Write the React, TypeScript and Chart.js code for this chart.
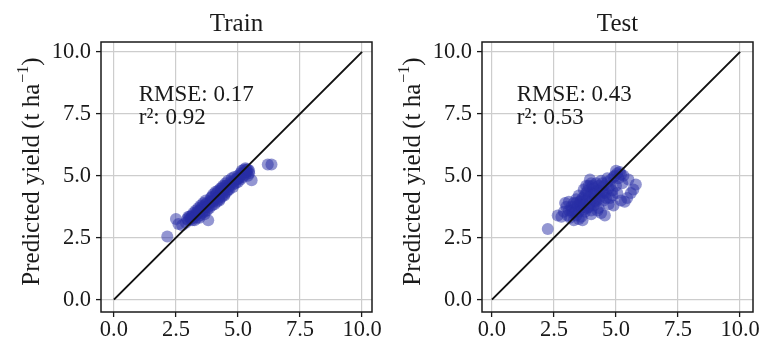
import React, { useEffect, useRef } from "react";
import { Chart, registerables } from "chart.js";

Chart.register(...registerables);

const serif = '"Liberation Serif", "Times New Roman", Times, serif';

const tickValues = [0, 2.5, 5, 7.5, 10];
const tickLabels = ["0.0", "2.5", "5.0", "7.5", "10.0"];
const oneToOne = [0, 10];

const trainObserved = [
  2.15, 2.5, 2.6, 2.75, 2.9, 3.0, 3.05, 3.1, 3.15, 3.2, 3.2, 3.25, 3.3, 3.3, 3.35, 3.4, 3.4, 3.45, 3.5, 3.5,
  3.55, 3.6, 3.6, 3.65, 3.7, 3.7, 3.75, 3.8, 3.8, 3.85, 3.9, 3.9, 3.95, 4.0, 4.0, 4.05, 4.1, 4.1, 4.15, 4.2,
  4.2, 4.25, 4.3, 4.3, 4.35, 4.4, 4.4, 4.45, 4.5, 4.5, 4.55, 4.6, 4.6, 4.65, 4.7, 4.75, 4.8, 4.8, 4.85, 4.9,
  4.95, 5.0, 5.0, 5.05, 5.1, 5.1, 5.15, 5.2, 5.25, 5.3, 5.3, 5.35, 5.4, 5.4, 5.45, 5.55, 6.2, 6.35,
  3.35, 3.55, 3.75, 3.95, 4.15, 4.35, 4.55, 3.15, 3.45, 3.65, 4.25, 4.45,
  3.3, 3.5, 3.7, 3.9, 4.1, 4.3, 4.5, 4.7, 4.9, 5.1, 5.3, 3.6, 3.8, 4.0, 4.2, 4.4, 4.6, 4.8, 5.0, 5.2,
  5.35, 5.45, 3.1, 3.4, 3.0, 2.95,
];
const trainPredicted = [
  2.55, 3.25, 3.05, 3.0, 3.1, 3.2, 3.35, 3.25, 3.4, 3.3, 3.5, 3.2, 3.4, 3.6, 3.3, 3.5, 3.7, 3.4, 3.6, 3.8,
  3.5, 3.7, 3.9, 3.55, 3.75, 4.0, 3.6, 3.85, 3.2, 3.7, 3.95, 4.1, 3.8, 4.0, 4.25, 3.85, 4.1, 4.35, 3.95, 4.2,
  4.4, 4.05, 4.3, 4.5, 4.15, 4.4, 4.6, 4.25, 4.5, 4.7, 4.35, 4.55, 4.8, 4.45, 4.65, 4.9, 4.55, 4.75, 4.95, 4.7,
  4.85, 5.0, 4.75, 4.9, 5.1, 4.85, 5.2, 4.95, 5.25, 5.05, 5.3, 5.15, 5.0, 5.25, 5.1, 4.82, 5.45, 5.45,
  3.55, 3.75, 3.9, 4.15, 4.3, 4.5, 4.6, 3.2, 3.3, 3.45, 4.0, 4.2,
  3.45, 3.65, 3.85, 4.0, 4.2, 4.4, 4.6, 4.75, 4.85, 5.0, 5.15, 3.6, 3.75, 3.95, 4.1, 4.3, 4.45, 4.65, 4.9, 5.1,
  5.25, 5.2, 3.3, 3.55, 3.35, 3.25,
];

const testObserved = [
  2.25, 2.65, 2.8, 2.9, 2.95, 3.0, 3.05, 3.1, 3.1, 3.15, 3.2, 3.25, 3.3, 3.3, 3.35, 3.4, 3.4, 3.45, 3.5, 3.5,
  3.55, 3.6, 3.6, 3.65, 3.7, 3.7, 3.75, 3.8, 3.8, 3.85, 3.9, 3.9, 3.95, 3.95, 4.0, 4.0, 4.05, 4.1, 4.1, 4.15,
  4.2, 4.2, 4.25, 4.3, 4.3, 4.35, 4.4, 4.4, 4.45, 4.5, 4.5, 4.55, 4.6, 4.65, 4.7, 4.7, 4.75, 4.8, 4.85, 4.9,
  4.95, 5.0, 5.0, 5.05, 5.1, 5.15, 5.2, 5.25, 5.3, 5.35, 5.45, 5.5, 5.6, 5.7, 5.8, 5.2, 4.9, 3.5, 3.65, 4.0, 4.25,
  3.2, 3.4, 3.6, 3.75, 3.85, 4.05, 4.15, 4.35, 4.5, 4.6, 4.75, 4.85, 3.7, 3.9, 4.1, 4.3, 3.55, 3.35, 4.45, 4.65,
  5.05, 4.0, 3.8,
];
const testPredicted = [
  2.85, 3.4, 3.35, 3.55, 3.9, 3.75, 3.4, 3.6, 3.95, 3.3, 3.75, 3.5, 3.9, 3.2, 3.65, 4.05, 3.4, 3.8, 3.55, 4.2,
  3.95, 3.35, 3.7, 4.1, 3.85, 4.45, 3.55, 4.0, 4.3, 3.7, 4.6, 4.15, 3.9, 4.85, 3.6, 4.3, 4.05, 4.5, 3.8, 4.25,
  4.7, 3.95, 4.4, 3.7, 4.6, 4.15, 4.8, 3.5, 4.35, 4.0, 4.6, 3.4, 4.3, 4.75, 3.85, 4.5, 4.1, 4.85, 4.4, 3.8,
  5.0, 4.6, 5.2, 4.3, 4.9, 5.15, 4.0, 4.7, 5.0, 3.95, 4.1, 4.85, 4.3, 4.45, 4.65, 5.05, 4.95, 3.25, 3.2, 3.45, 3.6,
  3.6, 3.9, 4.0, 4.2, 4.4, 4.6, 4.0, 4.4, 4.3, 4.1, 4.6, 4.2, 3.65, 3.75, 4.3, 4.05, 3.8, 3.55, 4.7, 4.9,
  5.1, 4.7, 4.6,
];

const trainStats = ["RMSE: 0.17", "r²: 0.92"];
const testStats = ["RMSE: 0.43", "r²: 0.53"];
const statsPos = [1.0, 8.02];

const textColor = "#1a1a1a";

type PanelProps = {
  title: string;
  xs: number[];
  ys: number[];
  stats: string[];
  xMin: number;
  xMax: number;
};

function Panel({ title, xs, ys, stats, xMin, xMax }: PanelProps) {
  const ref = useRef<HTMLCanvasElement | null>(null);
  useEffect(() => {
    if (!ref.current) return;
    const decor = {
      id: "decor",
      afterDraw(chart: any) {
        const { ctx, chartArea: a, scales } = chart;
        ctx.save();
        ctx.strokeStyle = textColor;
        ctx.lineWidth = 1.5;
        ctx.strokeRect(a.left, a.top, a.right - a.left, a.bottom - a.top);
        ctx.fillStyle = textColor;
        ctx.textBaseline = "alphabetic";
        ctx.font = `25px ${serif}`;
        ctx.textAlign = "center";
        ctx.fillText(title, (a.left + a.right) / 2, 31);
        ctx.font = `23px ${serif}`;
        ctx.textAlign = "left";
        const sx = scales.x.getPixelForValue(statsPos[0]);
        const sy = scales.y.getPixelForValue(statsPos[1]);
        stats.forEach((s, i) => ctx.fillText(s, sx, sy + i * 23));
        // y-axis title with superscript
        ctx.translate(39, 172);
        ctx.rotate(-Math.PI / 2);
        const main = "Predicted yield (t ha";
        const sup = "−1";
        const close = ")";
        ctx.font = `25px ${serif}`;
        const w1 = ctx.measureText(main).width;
        const w3 = ctx.measureText(close).width;
        ctx.font = `16px ${serif}`;
        const w2 = ctx.measureText(sup).width;
        let x0 = -(w1 + w2 + w3) / 2;
        ctx.font = `25px ${serif}`;
        ctx.fillText(main, x0, 0);
        x0 += w1 + 1;
        ctx.font = `16px ${serif}`;
        ctx.fillText(sup, x0, -11);
        x0 += w2;
        ctx.font = `25px ${serif}`;
        ctx.fillText(close, x0, 0);
        ctx.restore();
      },
    };
    const axisCommon = (isX: boolean) => ({
      type: "linear" as const,
      afterBuildTicks: (s: any) => {
        s.ticks = tickValues.map((v) => ({ value: v }));
      },
      afterFit: (s: any) => {
        if (isX) {
          s.height = 34;
          s.paddingLeft = 0;
          s.paddingRight = 0;
        } else {
          s.width = 101;
          s.paddingTop = 0;
          s.paddingBottom = 0;
        }
      },
      ticks: {
        callback: (_v: any, i: number) => tickLabels[i],
        font: { family: serif, size: 22.5 },
        color: textColor,
        padding: isX ? 0 : 5,
        maxRotation: 0,
        autoSkip: false,
      },
      grid: {
        color: "#cdcdcd",
        lineWidth: 1.2,
        tickColor: textColor,
        tickLength: 5,
        tickWidth: 1.3,
        drawTicks: true,
      },
      border: { display: false },
    });
    const chart = new Chart(ref.current, {
      type: "scatter",
      data: {
        datasets: [
          {
            data: oneToOne.map((v) => ({ x: v, y: v })),
            showLine: true,
            borderColor: "#111111",
            borderWidth: 2,
            pointRadius: 0,
          },
          {
            data: xs.map((x, i) => ({ x, y: ys[i] })),
            backgroundColor: "rgba(40,45,165,0.5)",
            borderWidth: 0,
            pointRadius: 6,
          },
        ],
      },
      options: {
        animation: false,
        responsive: false,
        layout: { padding: { left: 0, top: 42, right: 9, bottom: 0 } },
        plugins: { legend: { display: false }, tooltip: { enabled: false } },
        scales: {
          x: { ...axisCommon(true), min: xMin, max: xMax },
          y: { ...axisCommon(false), min: -0.5, max: 10.4 },
        },
      },
      plugins: [decor],
    });
    return () => chart.destroy();
  }, [title, xs, ys, stats, xMin, xMax]);
  return <canvas ref={ref} width={381} height={346} style={{ display: "block" }} />;
}

export default function App() {
  return (
    <div style={{ position: "fixed", left: 0, top: 0, width: 762, height: 346, background: "#ffffff" }}>
      <div style={{ position: "absolute", left: 0, top: 0 }}>
        <Panel title="Train" xs={trainObserved} ys={trainPredicted} stats={trainStats} xMin={-0.52} xMax={10.4} />
      </div>
      <div style={{ position: "absolute", left: 381, top: 0 }}>
        <Panel title="Test" xs={testObserved} ys={testPredicted} stats={testStats} xMin={-0.4} xMax={10.52} />
      </div>
    </div>
  );
}
